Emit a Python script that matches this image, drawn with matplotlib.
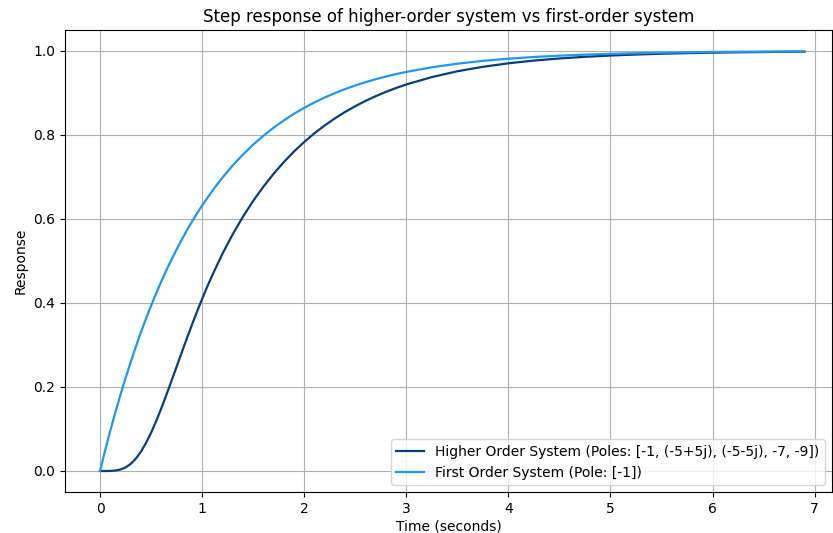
import matplotlib
matplotlib.use("Agg")
import matplotlib.pyplot as plt

# Higher-order system step response
t_high = [0.0, 0.05, 0.1, 0.15, 0.2, 0.25, 0.3, 0.35, 0.4, 0.45, 0.5, 0.55, 0.6, 0.65,
          0.7, 0.75, 0.8, 0.85, 0.9, 0.95, 1.0, 1.05, 1.1, 1.2, 1.3, 1.4, 1.5, 1.6,
          1.7, 1.8, 1.9, 2.0, 2.1, 2.2, 2.3, 2.4, 2.5, 2.6, 2.7, 2.8, 2.9, 3.0, 3.25,
          3.5, 3.75, 4.0, 4.25, 4.5, 4.75, 5.0, 5.25, 5.5, 5.75, 6.0, 6.25, 6.5, 6.9]
y_high = [0.0, 0.0000, 0.0002, 0.0011, 0.0035, 0.0084, 0.0168, 0.0292, 0.0457, 0.0665,
          0.0910, 0.1187, 0.1490, 0.1811, 0.2144, 0.2482, 0.2819, 0.3153, 0.3478,
          0.3793, 0.4096, 0.4386, 0.4662, 0.5176, 0.5638, 0.6055, 0.6430, 0.6769,
          0.7076, 0.7354, 0.7606, 0.7834, 0.8040, 0.8226, 0.8395, 0.8548, 0.8686,
          0.8811, 0.8924, 0.9027, 0.9119, 0.9203, 0.9379, 0.9517, 0.9624, 0.9707,
          0.9772, 0.9822, 0.9862, 0.9892, 0.9916, 0.9935, 0.9949, 0.9960, 0.9969,
          0.9976, 0.9984]

# First-order system step response
t_first = [0.0, 0.05, 0.1, 0.15, 0.2, 0.25, 0.3, 0.35, 0.4, 0.45, 0.5, 0.55, 0.6, 0.65,
           0.7, 0.75, 0.8, 0.85, 0.9, 0.95, 1.0, 1.1, 1.2, 1.3, 1.4, 1.5, 1.6, 1.7,
           1.8, 1.9, 2.0, 2.1, 2.2, 2.3, 2.4, 2.5, 2.6, 2.7, 2.8, 2.9, 3.0, 3.25, 3.5,
           3.75, 4.0, 4.25, 4.5, 4.75, 5.0, 5.25, 5.5, 5.75, 6.0, 6.25, 6.5, 6.9]
y_first = [0.0, 0.0488, 0.0952, 0.1393, 0.1813, 0.2212, 0.2592, 0.2953, 0.3297, 0.3624,
           0.3935, 0.4231, 0.4512, 0.4780, 0.5034, 0.5276, 0.5507, 0.5726, 0.5934,
           0.6133, 0.6321, 0.6671, 0.6988, 0.7275, 0.7534, 0.7769, 0.7981, 0.8173,
           0.8347, 0.8504, 0.8647, 0.8775, 0.8892, 0.8997, 0.9093, 0.9179, 0.9257,
           0.9328, 0.9392, 0.9450, 0.9502, 0.9612, 0.9698, 0.9765, 0.9817, 0.9857,
           0.9889, 0.9913, 0.9933, 0.9948, 0.9959, 0.9968, 0.9975, 0.9981, 0.9985,
           0.9990]

label_high = "Higher Order System (Poles: [-1, (-5+5j), (-5-5j), -7, -9])"
label_first = "First Order System (Pole: [-1])"

fig = plt.figure(figsize=(8.33, 5.33), dpi=100)
ax = fig.add_axes([65/833, 1-492/533, (832-65)/833, (492-30)/533])
ax.plot(t_high, y_high, color="#073f7a", lw=1.6, label=label_high)
ax.plot(t_first, y_first, color="#2196f3", lw=1.6, label=label_first)
ax.set_xlim(-0.343, 7.17)
ax.set_ylim(-0.05, 1.05)
ax.grid(True, color="#b0b0b0", lw=0.8)
ax.set_title("Step response of higher-order system vs first-order system")
ax.set_xlabel("Time (seconds)", labelpad=2.5)
ax.set_ylabel("Response")
ax.legend(loc="lower right")
fig.savefig("out.png", dpi=100)
